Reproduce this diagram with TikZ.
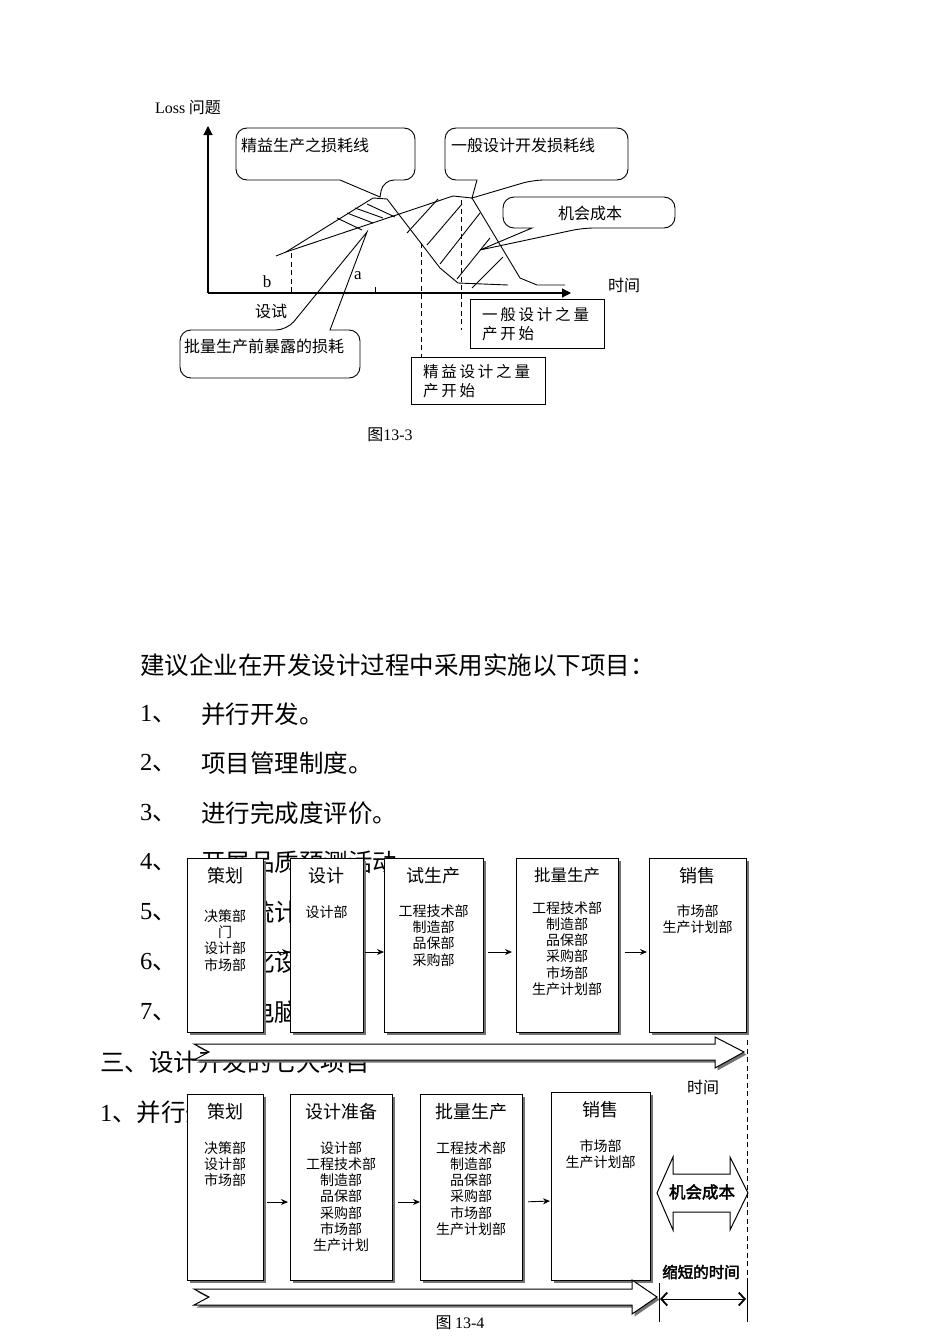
\documentclass[tikz,border=0pt]{standalone}
\usepackage{fontspec}
\setmainfont{Liberation Serif}
\newfontfamily\cjk{Noto Sans CJK SC}
\newfontfamily\cjkb[FakeBold=2.5]{Noto Sans CJK SC}
\usetikzlibrary{arrows.meta,shadows}
\newcommand\lat[1]{{\rmfamily #1}}
\newcommand\ls{\kern2.8pt}
\tikzset{
  every node/.style={inner sep=0pt, outer sep=0pt},
  body/.style={font=\cjk\fontsize{24.5}{29}\selectfont, anchor=west},
  chartsm/.style={font=\cjk\fontsize{16}{19}\selectfont},
  ttl/.style={font=\cjk\fontsize{18}{20}\selectfont},
  dept/.style={font=\cjk\fontsize{14}{16.2}\selectfont, align=center},
  shad/.style={drop shadow={shadow xshift=2.5pt, shadow yshift=-2.5pt, fill=black!55, opacity=1}},
  fbox/.style={draw, fill=white, line width=1pt, shad},
  blockarrow/.style={draw, fill=white, line width=1pt, shad},
  conn/.style={line width=0.9pt, -{Stealth[length=7pt,width=6pt]}},
  axis/.style={line width=1.1pt, -{Triangle[length=9pt,width=9pt]}},
  curve/.style={line width=0.9pt},
  dashline/.style={line width=0.9pt, dash pattern=on 5pt off 3.5pt},
  callout/.style={draw, fill=white, line width=0.9pt, rounded corners=11pt},
  plainbox/.style={draw, line width=1pt},
}
\begin{document}
\begin{tikzpicture}[x=1pt,y=-1pt]
\useasboundingbox[fill=white] (0,0) rectangle (950,1344);

% ================= Figure 13-3 =================
% callouts
\draw[callout] (236,128) -- (415,128) -- (415,180) -- (383,180) [sharp corners] -- (380,197) -- (340,180) [rounded corners=11pt] -- (236,180) -- cycle;
\node[chartsm, anchor=west] (c1) at (241,145) {精益生产之损耗线};
\draw[callout] (445,128) -- (628,128) -- (628,180) -- (533,180) [sharp corners] -- (472,198) -- (477,180) [rounded corners=11pt] -- (445,180) -- cycle;
\node[chartsm, anchor=west] (c2) at (451,145) {一般设计开发损耗线};
\draw[callout] (503,197) -- (675,197) -- (675,228) -- (583,228) [sharp corners] -- (480,250) -- (532,228) [rounded corners=11pt] -- (503,228) -- cycle;
\node[chartsm] (c3) at (590,213) {机会成本};
\draw[callout] (180,330) -- (287,330) [sharp corners] -- (367,232) -- (330,330) [rounded corners=11pt] -- (360,330) -- (360,378) -- (180,378) -- cycle;
\node[chartsm, anchor=west] (c4) at (184,346) {批量生产前暴露的损耗};

% axes
\coordinate (O) at (208,293);
\coordinate (Ytop) at (208,126);
\coordinate (Xend) at (571,293);
\draw[axis] (O) -- (Ytop);
\draw[axis] (O) -- (Xend);
\draw[curve] (375,287) -- (375,293);

% curves
\draw[curve] (276,256) -- (286,252) -- (373,198) -- (387,199) -- (440,268) -- (458,283) -- (508,285);
\draw[curve] (286,252) -- (453,196) -- (472,198) -- (520,278) -- (537,285) -- (565,285);
% lean hatches
\draw[curve] (337,218) -- (362,230);
\draw[curve] (347,213) -- (373,223);
\draw[curve] (355,208) -- (383,218);
\draw[curve] (367,204) -- (395,217);
% opportunity cost hatches
\draw[curve] (407,233) -- (438,199);
\draw[curve] (427,245) -- (462,204);
\draw[curve] (440,264) -- (480,213);
\draw[curve] (457,279) -- (490,238);
\draw[curve] (472,288) -- (503,257);

% dashed verticals
\draw[dashline] (291,253) -- (291,293);
\draw[dashline] (421,243) -- (421,357);
\draw[dashline] (461,200) -- (461,330);

% labels
\node[anchor=west, font=\cjk\fontsize{16}{19}\selectfont] (loss) at (155,108) {\lat{Loss} 问题};
\node[chartsm] (tm1) at (624,285) {时间};
\node[font=\rmfamily\fontsize{17}{20}\selectfont] (lb) at (267,282) {b};
\node[font=\rmfamily\fontsize{17}{20}\selectfont] (la) at (358,276) {a};
\node[chartsm] (sx) at (271,311) {设试};

% boxes
\node[plainbox, minimum width=134pt, minimum height=49pt] (g1) at (537,323.5) {};
\node[anchor=west, align=left, font=\cjk\fontsize{15.5}{19}\selectfont] (g1t) at (482,324.5) {一\ls 般\ls 设\ls 计\ls 之\ls 量\\产\ls 开\ls 始};
\node[plainbox, minimum width=134pt, minimum height=47pt] (g2) at (478,380.5) {};
\node[anchor=west, align=left, font=\cjk\fontsize{15.5}{19}\selectfont] (g2t) at (423,381) {精\ls 益\ls 设\ls 计\ls 之\ls 量\\产\ls 开\ls 始};

\node[chartsm] (cap1) at (390,435) {图\lat{13-3}};

% ================= body text =================
\node[body] (t0) at (140,665) {建议企业在开发设计过程中采用实施以下项目：};
\node[body] (n1) at (140,714) {\lat{1}、}; \node[body] (t1) at (201,714) {并行开发。};
\node[body] (n2) at (140,763) {\lat{2}、}; \node[body] (t2) at (201,763) {项目管理制度。};
\node[body] (n3) at (140,813) {\lat{3}、}; \node[body] (t3) at (201,813) {进行完成度评价。};
\node[body] (n4) at (140,862) {\lat{4}、}; \node[body] (t4) at (201,862) {开展品质预测活动。};
\node[body] (n5) at (140,912) {\lat{5}、}; \node[body] (t5) at (201,912) {运用统计技术。};
\node[body] (n6) at (140,962) {\lat{6}、}; \node[body] (t6) at (201,962) {标准化设计。};
\node[body] (n7) at (140,1012) {\lat{7}、}; \node[body] (t7) at (201,1012) {采用电脑管理。};
\node[body] (h3) at (100,1062) {三、设计开发的七大项目};
\node[body] (h31) at (100,1112) {\lat{1}、并行开发};

% ================= Figure 13-4 row 1 =================
\node[fbox, minimum width=76pt, minimum height=174pt] (p1) at (225,945) {};
\node[fbox, minimum width=73pt, minimum height=174pt] (p2) at (326.5,945) {};
\node[fbox, minimum width=99pt, minimum height=174pt] (p3) at (433.5,945) {};
\node[fbox, minimum width=102pt, minimum height=174pt] (p4) at (567,945) {};
\node[fbox, minimum width=97pt, minimum height=174pt] (p5) at (697.5,945) {};

\node[ttl] (p1t) at (225,876) {策划};
\node[ttl] (p2t) at (326.5,876) {设计};
\node[ttl] (p3t) at (433.5,876) {试生产};
\node[ttl, font=\cjk\fontsize{16.5}{20}\selectfont] (p4t) at (567,875) {批量生产};
\node[ttl] (p5t) at (697.5,876) {销售};

\node[dept] (p1d) at (225,940.5) {决策部\\门\\设计部\\市场部};
\node[dept] (p2d) at (326.5,912) {设计部};
\node[dept] (p3d) at (433.5,935.5) {工程技术部\\制造部\\品保部\\采购部};
\node[dept] (p4d) at (567,948.5) {工程技术部\\制造部\\品保部\\采购部\\市场部\\生产计划部};
\node[dept] (p5d) at (697.5,919) {市场部\\生产计划部};

\draw[conn, shorten <=2pt, shorten >=1pt] ([yshift=-7pt]p1.east) -- ([yshift=-7pt]p2.west);
\draw[conn, shorten <=2pt, shorten >=0pt] ([yshift=-7pt]p2.east) -- ([yshift=-7pt]p3.west);
\draw[conn, shorten <=5pt, shorten >=4pt] ([yshift=-7pt]p3.east) -- ([yshift=-7pt]p4.west);
\draw[conn, shorten <=7pt, shorten >=2pt] ([yshift=-7pt]p4.east) -- ([yshift=-7pt]p5.west);

\path[blockarrow] (194,1044) -- (715,1044) -- (715,1037) -- (744,1052) -- (715,1068) -- (715,1060) -- (194,1060) -- (209,1052) -- cycle;
\node[chartsm] (tm2) at (703,1087) {时间};

% ================= Figure 13-4 row 2 =================
\node[fbox, minimum width=76pt, minimum height=186pt] (q1) at (225,1187) {};
\node[fbox, minimum width=102pt, minimum height=186pt] (q2) at (341,1187) {};
\node[fbox, minimum width=102pt, minimum height=186pt] (q3) at (471,1187) {};
\node[fbox, minimum width=99pt, minimum height=188pt] (q4) at (600.5,1186) {};

\node[ttl] (q1t) at (225,1112) {策划};
\node[ttl] (q2t) at (341,1112) {设计准备};
\node[ttl] (q3t) at (471,1112) {批量生产};
\node[ttl] (q4t) at (600.5,1110) {销售};

\node[dept] (q1d) at (225,1164) {决策部\\设计部\\市场部};
\node[dept] (q2d) at (341,1196.5) {设计部\\工程技术部\\制造部\\品保部\\采购部\\市场部\\生产计划};
\node[dept] (q3d) at (471,1188.5) {工程技术部\\制造部\\品保部\\采购部\\市场部\\生产计划部};
\node[dept] (q4d) at (600.5,1154) {市场部\\生产计划部};

\draw[conn, shorten <=4pt, shorten >=2pt] ([yshift=-15pt]q1.east) -- ([yshift=-15pt]q2.west);
\draw[conn, shorten <=6pt, shorten >=0pt] ([yshift=-15pt]q2.east) -- ([yshift=-15pt]q3.west);
\draw[conn, shorten <=6pt, shorten >=1pt] ([yshift=-15pt]q3.east) -- ([yshift=-15pt]q4.west);

\path[blockarrow] (194,1289) -- (632,1289) -- (632,1280) -- (657,1297) -- (632,1314) -- (632,1305) -- (194,1305) -- (209,1297) -- cycle;

% opportunity cost double block arrow
\path[draw, fill=white, line width=1pt] (657,1193) -- (673,1157) -- (673,1174) -- (730,1174) -- (730,1157) -- (748,1193) -- (730,1230) -- (730,1212) -- (673,1212) -- (673,1230) -- cycle;
\node[font=\cjkb\fontsize{16.5}{20}\selectfont] (oc) at (702,1192) {机会成本};

% time marks
\coordinate (d1) at (747,1040);
\coordinate (d2) at (747,1283);
\coordinate (d3) at (747,1322);
\coordinate (e1) at (659,1283);
\coordinate (e2) at (659,1322);
\draw[dashline, line width=0.8pt] (d1) -- (d2);
\draw[line width=0.9pt] (d2) -- (d3);
\draw[line width=0.9pt] (e1) -- (e2);
\node[font=\cjkb\fontsize{15.5}{19}\selectfont] (sd) at (701,1272) {缩短的时间};
\coordinate (s1) at (660,1299);
\coordinate (s2) at (746,1299);
\draw[line width=0.9pt, {Straight Barb[length=6pt,width=13pt,line width=1.8pt]}-{Straight Barb[length=6pt,width=13pt,line width=1.8pt]}] (s1) -- (s2);

\node[chartsm] (cap2) at (460,1323) {图 \lat{13-4}};
\end{tikzpicture}
\end{document}
